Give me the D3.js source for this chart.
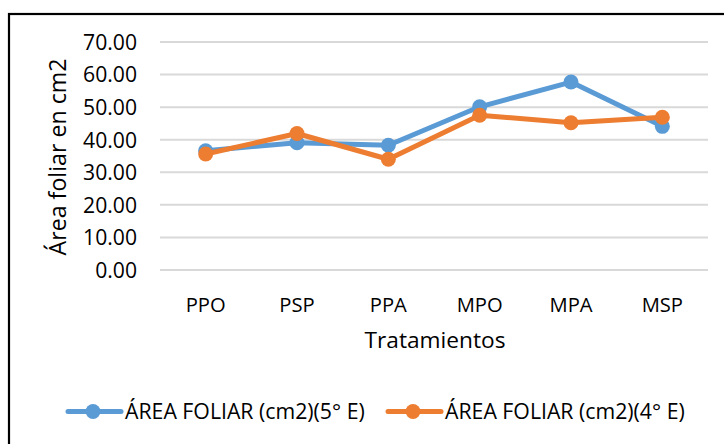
<!DOCTYPE html>
<html><head><meta charset="utf-8">
<script src="https://cdn.jsdelivr.net/npm/d3@7"></script>
<style>body{margin:0;background:#fff;} svg{display:block;font-family:"Open Sans", sans-serif;}</style>
</head><body>
<svg id="c" width="724" height="444"></svg>
<script>
const categories = ["PPO","PSP","PPA","MPO","MPA","MSP"];
const serie5E = [36.6, 39.1, 38.3, 50.1, 57.7, 44.1];
const serie4E = [35.6, 41.9, 34.0, 47.5, 45.2, 46.9];
const seriesNames = ["ÁREA FOLIAR (cm2)(5° E)", "ÁREA FOLIAR (cm2)(4° E)"];
const seriesColors = ["#5B9BD5", "#ED7D31"];
const yTicks = [0,10,20,30,40,50,60,70];

const svg = d3.select("#c");
svg.append("rect").attr("x",0).attr("y",0).attr("width",724).attr("height",444).attr("fill","#fff");
svg.append("rect").attr("x",9).attr("y",14).attr("width",800).attr("height",600)
  .attr("fill","none").attr("stroke","#000").attr("stroke-width",2.2);

const x = d3.scaleBand().domain(categories).range([160,708]);
const y = d3.scaleLinear().domain([0,70]).range([270,42]);

function fit(sel, base, target){
  sel.attr("font-size", base);
  const w = sel.node().getComputedTextLength();
  return base*target/w;
}

// gridlines
svg.append("g").selectAll("line").data(yTicks).join("line")
  .attr("x1",160).attr("x2",708).attr("y1",d=>y(d)).attr("y2",d=>y(d))
  .attr("stroke","#D9D9D9").attr("stroke-width",2);

// y axis labels
const yAxis = d3.axisLeft(y).tickValues(yTicks).tickFormat(d3.format(".2f")).tickSize(0).tickPadding(0);
const gy = svg.append("g").attr("transform","translate(137,0)").call(yAxis);
gy.select(".domain").remove();
gy.selectAll("text").attr("fill","#000").attr("font-family","'Open Sans', sans-serif").attr("dy","0.35em");
const ys = fit(gy.selectAll("text").filter(d=>d===70), 20, 54);
gy.selectAll("text").attr("font-size", ys);

// x axis labels
const xAxis = d3.axisBottom(x).tickSize(0).tickPadding(0);
const gx = svg.append("g").attr("transform","translate(0,305)").call(xAxis);
gx.select(".domain").remove();
gx.selectAll("text").attr("fill","#000").attr("font-family","'Open Sans', sans-serif").attr("dy","0.35em");
const xs = fit(gx.selectAll("text").filter(d=>d==="PPO"), 19, 40);
gx.selectAll("text").attr("font-size", xs);

// titles
const xt = svg.append("text").attr("x",435).attr("y",340).attr("dy","0.35em").attr("text-anchor","middle")
  .text("Tratamientos");
xt.attr("font-size", fit(xt, 20, 141));
const yt = svg.append("text").attr("transform","translate(58,157) rotate(-90)").attr("dy","0.35em")
  .attr("text-anchor","middle").text("Área foliar en cm2");
yt.attr("font-size", fit(yt, 20, 197));

// lines
const data = [serie5E, serie4E];
const line = d3.line().x((d,i)=>x(categories[i])+x.bandwidth()/2).y(d=>y(d));
data.forEach((s,k)=>{
  const g = svg.append("g");
  g.append("path").datum(s).attr("d",line).attr("fill","none")
    .attr("stroke",seriesColors[k]).attr("stroke-width",5).attr("stroke-linejoin","round").attr("stroke-linecap","round");
  g.selectAll("circle").data(s).join("circle")
    .attr("cx",(d,i)=>x(categories[i])+x.bandwidth()/2).attr("cy",d=>y(d)).attr("r",7.5)
    .attr("fill",seriesColors[k]);
});

// legend
const legX = [66, 386];
seriesNames.forEach((n,k)=>{
  const g = svg.append("g").attr("transform",`translate(${legX[k]},411.5)`);
  g.append("line").attr("x1",2).attr("x2",55).attr("y1",0).attr("y2",0)
    .attr("stroke",seriesColors[k]).attr("stroke-width",5).attr("stroke-linecap","round");
  g.append("circle").attr("cx",27).attr("cy",0).attr("r",7.5).attr("fill",seriesColors[k]);
  const t = g.append("text").attr("x",59).attr("dy","0.35em").text(n);
  t.attr("font-size", fit(t, 19, 240));
});
</script>
</body></html>
